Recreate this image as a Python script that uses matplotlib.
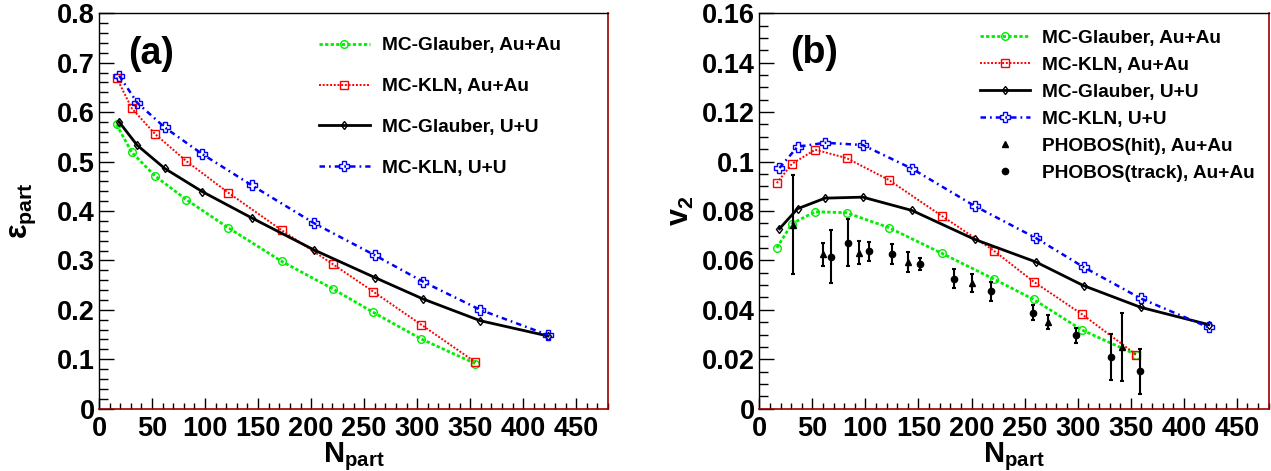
import matplotlib
matplotlib.use('Agg')
import matplotlib.pyplot as plt
from matplotlib.ticker import MultipleLocator, FuncFormatter

plt.rcParams['font.family'] = ['Liberation Sans', 'DejaVu Sans']
plt.rcParams['font.weight'] = 'bold'
plt.rcParams['mathtext.fontset'] = 'custom'
plt.rcParams['mathtext.rm'] = 'Liberation Sans:bold'
plt.rcParams['mathtext.bf'] = 'Liberation Sans:bold'
plt.rcParams['mathtext.it'] = 'Liberation Sans:bold'

# ===== data =====
npart_au = [16.5, 30.8, 52.7, 82.3, 121.9, 172.3, 220.8, 258.5, 303.8, 355.0]
npart_u = [19.0, 36.0, 62.0, 97.5, 144.0, 203.0, 260.5, 305.5, 359.5, 423.5]

ecc_glauber_au = [0.575, 0.519, 0.471, 0.423, 0.366, 0.298, 0.242, 0.195, 0.141, 0.091]
ecc_kln_au = [0.670, 0.608, 0.556, 0.501, 0.437, 0.361, 0.292, 0.237, 0.170, 0.094]
ecc_glauber_u = [0.580, 0.533, 0.486, 0.439, 0.386, 0.321, 0.265, 0.222, 0.178, 0.147]
ecc_kln_u = [0.674, 0.619, 0.569, 0.515, 0.452, 0.375, 0.310, 0.257, 0.200, 0.149]

v2_glauber_au = [0.0651, 0.0749, 0.0797, 0.0793, 0.0733, 0.0628, 0.0525, 0.0442, 0.0319, 0.0219]
v2_kln_au = [0.0913, 0.0991, 0.1048, 0.1014, 0.0926, 0.0779, 0.0640, 0.0514, 0.0383, 0.0219]
v2_glauber_u = [0.0728, 0.0809, 0.0852, 0.0856, 0.0802, 0.0685, 0.0594, 0.0498, 0.0410, 0.0340]
v2_kln_u = [0.0974, 0.1060, 0.1076, 0.1067, 0.0971, 0.0820, 0.0691, 0.0573, 0.0446, 0.0329]

phobos_hit_x = [31.4, 59.7, 93.9, 139.8, 200.1, 272.0, 341.4]
phobos_hit_v2 = [0.0745, 0.0625, 0.0631, 0.0594, 0.0510, 0.0351, 0.0251]
phobos_hit_err = [0.0202, 0.0046, 0.0047, 0.0039, 0.0036, 0.0028, 0.0138]

phobos_trk_x = [67.5, 83.3, 103.3, 125.3, 151.7, 183.4, 218.0, 257.8, 298.0, 331.0, 358.9]
phobos_trk_v2 = [0.0615, 0.0672, 0.0637, 0.0626, 0.0586, 0.0526, 0.0475, 0.0389, 0.0297, 0.0208, 0.0151]
phobos_trk_err = [0.0108, 0.0095, 0.0038, 0.0040, 0.0025, 0.0038, 0.0039, 0.0031, 0.0031, 0.0093, 0.0092]

labels = ['MC-Glauber, Au+Au', 'MC-KLN, Au+Au', 'MC-Glauber, U+U', 'MC-KLN, U+U']

GREEN = dict(color='#00ee00', ls=(0, (1.2, 0.8)), lw=2.0, marker='o', ms=5.5, mfc='none', mew=1.0)
RED = dict(color='#ff0000', ls=(0, (1, 0.9)), lw=1.4, marker='s', ms=5.5, mfc='none', mew=1.0)
BLACK = dict(color='black', ls='-', lw=2.0, marker='d', ms=4.5, mfc='none', mew=1.0)
BLUE = dict(color='#0000ff', ls=(0, (2.2, 1.6, 0.7, 1.6)), lw=1.8, marker='P', ms=6.5, mfc='none', mew=1.0)

fmt = FuncFormatter(lambda v, p: f'{v:g}')


def style_axes(ax, ymax, ymajor, yminor):
    ax.set_xlim(0, 480)
    ax.set_ylim(0, ymax)
    ax.xaxis.set_major_locator(MultipleLocator(50))
    ax.xaxis.set_minor_locator(MultipleLocator(10))
    ax.yaxis.set_major_locator(MultipleLocator(ymajor))
    ax.yaxis.set_minor_locator(MultipleLocator(yminor))
    ax.yaxis.set_major_formatter(fmt)
    ax.xaxis.set_major_formatter(fmt)
    ax.tick_params(axis='x', which='major', direction='in', length=8, width=1, labelsize=19.5, pad=5, top=False)
    ax.tick_params(axis='x', which='minor', direction='in', length=4, width=1, top=False)
    ax.tick_params(axis='y', which='major', direction='in', length=10.5, width=1, labelsize=19.5, pad=3, right=False)
    ax.tick_params(axis='y', which='minor', direction='in', length=6.3, width=1, right=False)
    for s in ['top', 'left']:
        ax.spines[s].set_color('black')
        ax.spines[s].set_linewidth(1.0)
    for s in ['bottom', 'right']:
        ax.spines[s].set_color('#990000')
        ax.spines[s].set_linewidth(1.2)


fig = plt.figure(figsize=(12.71, 4.71), dpi=100)

# ===== (a) eccentricity =====
ax = fig.add_axes([0.0779, 0.1323, 0.4005, 0.8395])
ax.plot(npart_au, ecc_glauber_au, **GREEN, label=labels[0])
ax.plot(npart_au, ecc_kln_au, **RED, label=labels[1])
ax.plot(npart_u, ecc_glauber_u, **BLACK, label=labels[2])
ax.plot(npart_u, ecc_kln_u, **BLUE, label=labels[3])
style_axes(ax, 0.8, 0.1, 0.02)
ax.set_xlabel(r'$\mathbf{N_{part}}$', fontsize=21)
ax.set_ylabel(r'$\mathbf{ε_{part}}$', fontsize=22)
ax.xaxis.set_label_coords(0.5, -0.08)
ax.yaxis.set_label_coords(-0.12, 0.5)
ax.text(0.103, 0.898, '(a)', transform=ax.transAxes, fontsize=27, ha='center', va='center')
ax.legend(loc='upper left', bbox_to_anchor=(0.432, 0.94), frameon=False, fontsize=13.8,
          borderpad=0, borderaxespad=0, handlelength=2.65, handletextpad=0.62,
          labelspacing=1.22, numpoints=1)

# ===== (b) v2 =====
ax = fig.add_axes([0.5974, 0.1323, 0.4008, 0.8395])
h1, = ax.plot(npart_au, v2_glauber_au, **GREEN)
h2, = ax.plot(npart_au, v2_kln_au, **RED)
h3, = ax.plot(npart_u, v2_glauber_u, **BLACK)
h4, = ax.plot(npart_u, v2_kln_u, **BLUE)
eb1 = ax.errorbar(phobos_hit_x, phobos_hit_v2, yerr=phobos_hit_err, fmt='^', color='black',
                  ms=4.5, elinewidth=1.5, capsize=1.6, capthick=1.5, zorder=5)
eb2 = ax.errorbar(phobos_trk_x, phobos_trk_v2, yerr=phobos_trk_err, fmt='o', color='black',
                  ms=4.5, elinewidth=1.5, capsize=1.6, capthick=1.5, zorder=5)
style_axes(ax, 0.16, 0.02, 0.005)
ax.set_xlabel(r'$\mathbf{N_{part}}$', fontsize=21)
ax.set_ylabel(r'$\mathbf{v_{2}}$', fontsize=22)
ax.xaxis.set_label_coords(0.5, -0.08)
ax.yaxis.set_label_coords(-0.124, 0.5)
ax.text(0.107, 0.9, '(b)', transform=ax.transAxes, fontsize=27, ha='center', va='center')
ax.legend([h1, h2, h3, h4, eb1[0], eb2[0]],
          labels + ['PHOBOS(hit), Au+Au', 'PHOBOS(track), Au+Au'],
          loc='upper left', bbox_to_anchor=(0.4325, 0.96), frameon=False, fontsize=13.8,
          borderpad=0, borderaxespad=0, handlelength=2.62, handletextpad=0.62,
          labelspacing=0.5, numpoints=1)

fig.savefig('out.png', dpi=100)
